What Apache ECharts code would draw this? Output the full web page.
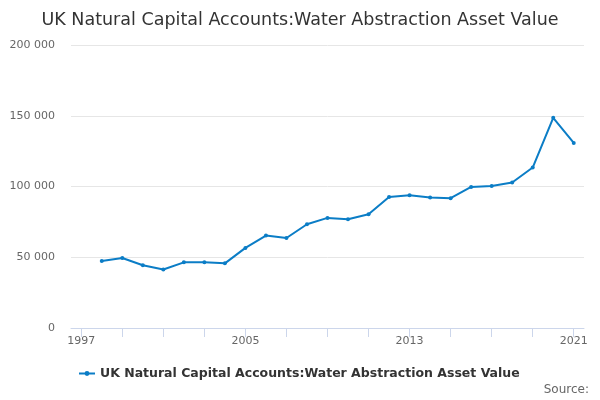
<!DOCTYPE html>
<html>
<head>
<meta charset="utf-8">
<script src="https://cdn.jsdelivr.net/npm/echarts@6/dist/echarts.min.js"></script>
<style>
  html, body { margin: 0; padding: 0; background: #fff; }
  #chart { width: 600px; height: 400px; }
</style>
</head>
<body>
<div id="chart"></div>
<script>
// years on the axis, the first one has no value
var years = ['1997', '1998', '1999', '2000', '2001', '2002', '2003', '2004', '2005',
  '2006', '2007', '2008', '2009', '2010', '2011', '2012', '2013', '2014', '2015',
  '2016', '2017', '2018', '2019', '2020', '2021'];
var assetValue = [null, 47400, 49500, 44300, 41300, 46400, 46400, 45700, 56600,
  65300, 63600, 73300, 77800, 76900, 80400, 92600, 93800, 92200, 91700,
  99700, 100400, 102800, 113400, 148500, 130800];
var seriesName = 'UK Natural Capital Accounts:Water Abstraction Asset Value';

var myChart = echarts.init(document.getElementById('chart'));
var option = {
    animation: false,
    textStyle: { fontFamily: 'DejaVu Sans' },
    title: {
        text: 'UK Natural Capital Accounts:Water Abstraction Asset Value',
        left: 'center',
        top: 6,
        textStyle: { fontSize: 17.5, fontWeight: 'normal', color: '#333333', fontFamily: 'DejaVu Sans' }
    },
    grid: { left: 71, right: 16, top: 45, bottom: 72 },
    legend: {
        left: 73,
        top: 362,
        itemWidth: 16,
        itemHeight: 6,
        itemGap: 6,
        textStyle: { fontSize: 12.5, fontWeight: 'bold', color: '#333333', fontFamily: 'DejaVu Sans' },
        data: [seriesName]
    },
    xAxis: {
        type: 'category',
        data: years,
        boundaryGap: true,
        axisLine: { show: true, lineStyle: { color: '#ccd6eb' } },
        axisTick: { show: true, alignWithLabel: true, interval: 1, length: 9, lineStyle: { color: '#ccd6eb', width: 1 } },
        axisLabel: { interval: 7, color: '#666666', fontSize: 11, margin: 8 }
    },
    yAxis: {
        type: 'value',
        min: 0,
        max: 200000,
        interval: 50000,
        axisLine: { show: false },
        axisTick: { show: false },
        splitLine: { lineStyle: { color: '#e6e6e6' } },
        axisLabel: {
            color: '#666666',
            fontSize: 11,
            margin: 16,
            formatter: function (v) {
                return String(v).replace(/\B(?=(\d{3})+(?!\d))/g, ' ');
            }
        }
    },
    series: [{
        name: seriesName,
        type: 'line',
        data: assetValue,
        symbol: 'circle',
        symbolSize: 4,
        lineStyle: { width: 2, color: '#0b7dc6' },
        itemStyle: { color: '#0b7dc6' }
    }],
    graphic: [{
        type: 'text',
        right: 11,
        top: 384,
        style: { text: 'Source:', fill: '#666666', fontSize: 12, fontFamily: 'DejaVu Sans' }
    }]
};
myChart.setOption(option);
</script>
</body>
</html>
